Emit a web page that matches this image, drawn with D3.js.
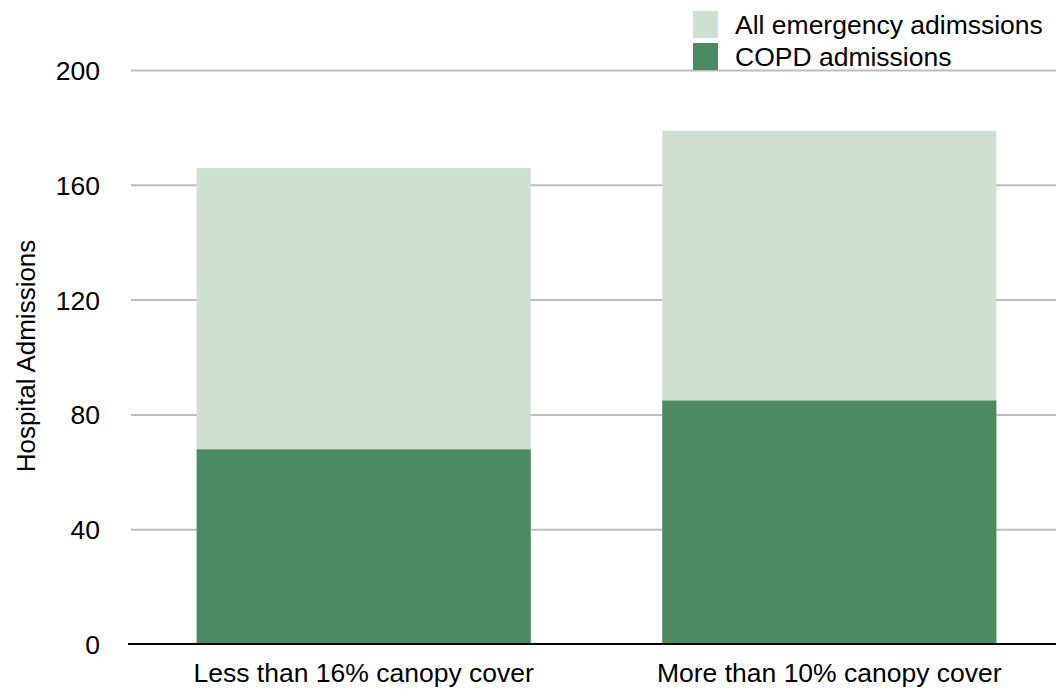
<!DOCTYPE html>
<html>
<head>
<meta charset="utf-8">
<script src="https://cdn.jsdelivr.net/npm/d3@7"></script>
<style>
  body { margin: 0; background: #fff; }
  text { font-family: "Liberation Sans", Arial, Helvetica, sans-serif; fill: #000; }
</style>
</head>
<body>
<div id="chart"></div>
<script>
// categories and values
var categories = ["Less than 16% canopy cover", "More than 10% canopy cover"];
var allEmergency = [166, 179];
var copd = [68, 85];
var yTicks = [0, 40, 80, 120, 160, 200];
var seriesNames = ["All emergency adimssions", "COPD admissions"];

var width = 1056, height = 693;
var colors = ["#cde0d1", "#4c8a61"];

var svg = d3.select("#chart")
  .append("svg")
  .attr("width", width)
  .attr("height", height);

var y = d3.scaleLinear()
  .domain([0, 200])
  .range([644.5, 70.5]);

var x = d3.scaleBand()
  .domain(categories)
  .range([131, 1062])
  .paddingInner(0.2825)
  .paddingOuter(0.141);

// gridlines
svg.append("g")
  .selectAll("line")
  .data(yTicks.filter(function (d) { return d > 0; }))
  .enter()
  .append("line")
  .attr("x1", 131)
  .attr("x2", width)
  .attr("y1", function (d) { return y(d); })
  .attr("y2", function (d) { return y(d); })
  .attr("stroke", "#bdbdbd")
  .attr("stroke-width", 2);

// tick labels
svg.append("g")
  .selectAll("text")
  .data(yTicks)
  .enter()
  .append("text")
  .attr("x", 100)
  .attr("y", function (d) { return y(d); })
  .attr("dy", "0.36em")
  .attr("text-anchor", "end")
  .style("font-size", "26.5px")
  .text(function (d) { return d; });

// bars: total first, COPD drawn over it
var bars = svg.append("g");
bars.selectAll("rect.total")
  .data(categories)
  .enter()
  .append("rect")
  .attr("class", "total")
  .attr("x", function (d) { return x(d); })
  .attr("width", x.bandwidth())
  .attr("y", function (d, i) { return y(allEmergency[i]); })
  .attr("height", function (d, i) { return y(0) - y(allEmergency[i]); })
  .attr("fill", colors[0]);

bars.selectAll("rect.copd")
  .data(categories)
  .enter()
  .append("rect")
  .attr("class", "copd")
  .attr("x", function (d) { return x(d); })
  .attr("width", x.bandwidth())
  .attr("y", function (d, i) { return y(copd[i]); })
  .attr("height", function (d, i) { return y(0) - y(copd[i]); })
  .attr("fill", colors[1]);

// baseline
svg.append("line")
  .attr("x1", 128)
  .attr("x2", width)
  .attr("y1", y(0) - 0.5)
  .attr("y2", y(0) - 0.5)
  .attr("stroke", "#000")
  .attr("stroke-width", 2);

// category labels
svg.append("g")
  .selectAll("text")
  .data(categories)
  .enter()
  .append("text")
  .attr("x", function (d) { return x(d) + x.bandwidth() / 2; })
  .attr("y", 682)
  .attr("text-anchor", "middle")
  .style("font-size", "26.5px")
  .text(function (d) { return d; });

// y axis title
svg.append("text")
  .attr("transform", "translate(35,356) rotate(-90)")
  .attr("text-anchor", "middle")
  .style("font-size", "26px")
  .text("Hospital Admissions");

// legend
var legend = svg.append("g")
  .selectAll("g")
  .data(seriesNames)
  .enter()
  .append("g")
  .attr("transform", function (d, i) { return "translate(693," + (11 + i * 32) + ")"; });

legend.append("rect")
  .attr("width", 25)
  .attr("height", 27)
  .attr("fill", function (d, i) { return colors[i]; });

legend.append("text")
  .attr("x", 42)
  .attr("y", 23)
  .style("font-size", "26.5px")
  .text(function (d) { return d; });
</script>
</body>
</html>
